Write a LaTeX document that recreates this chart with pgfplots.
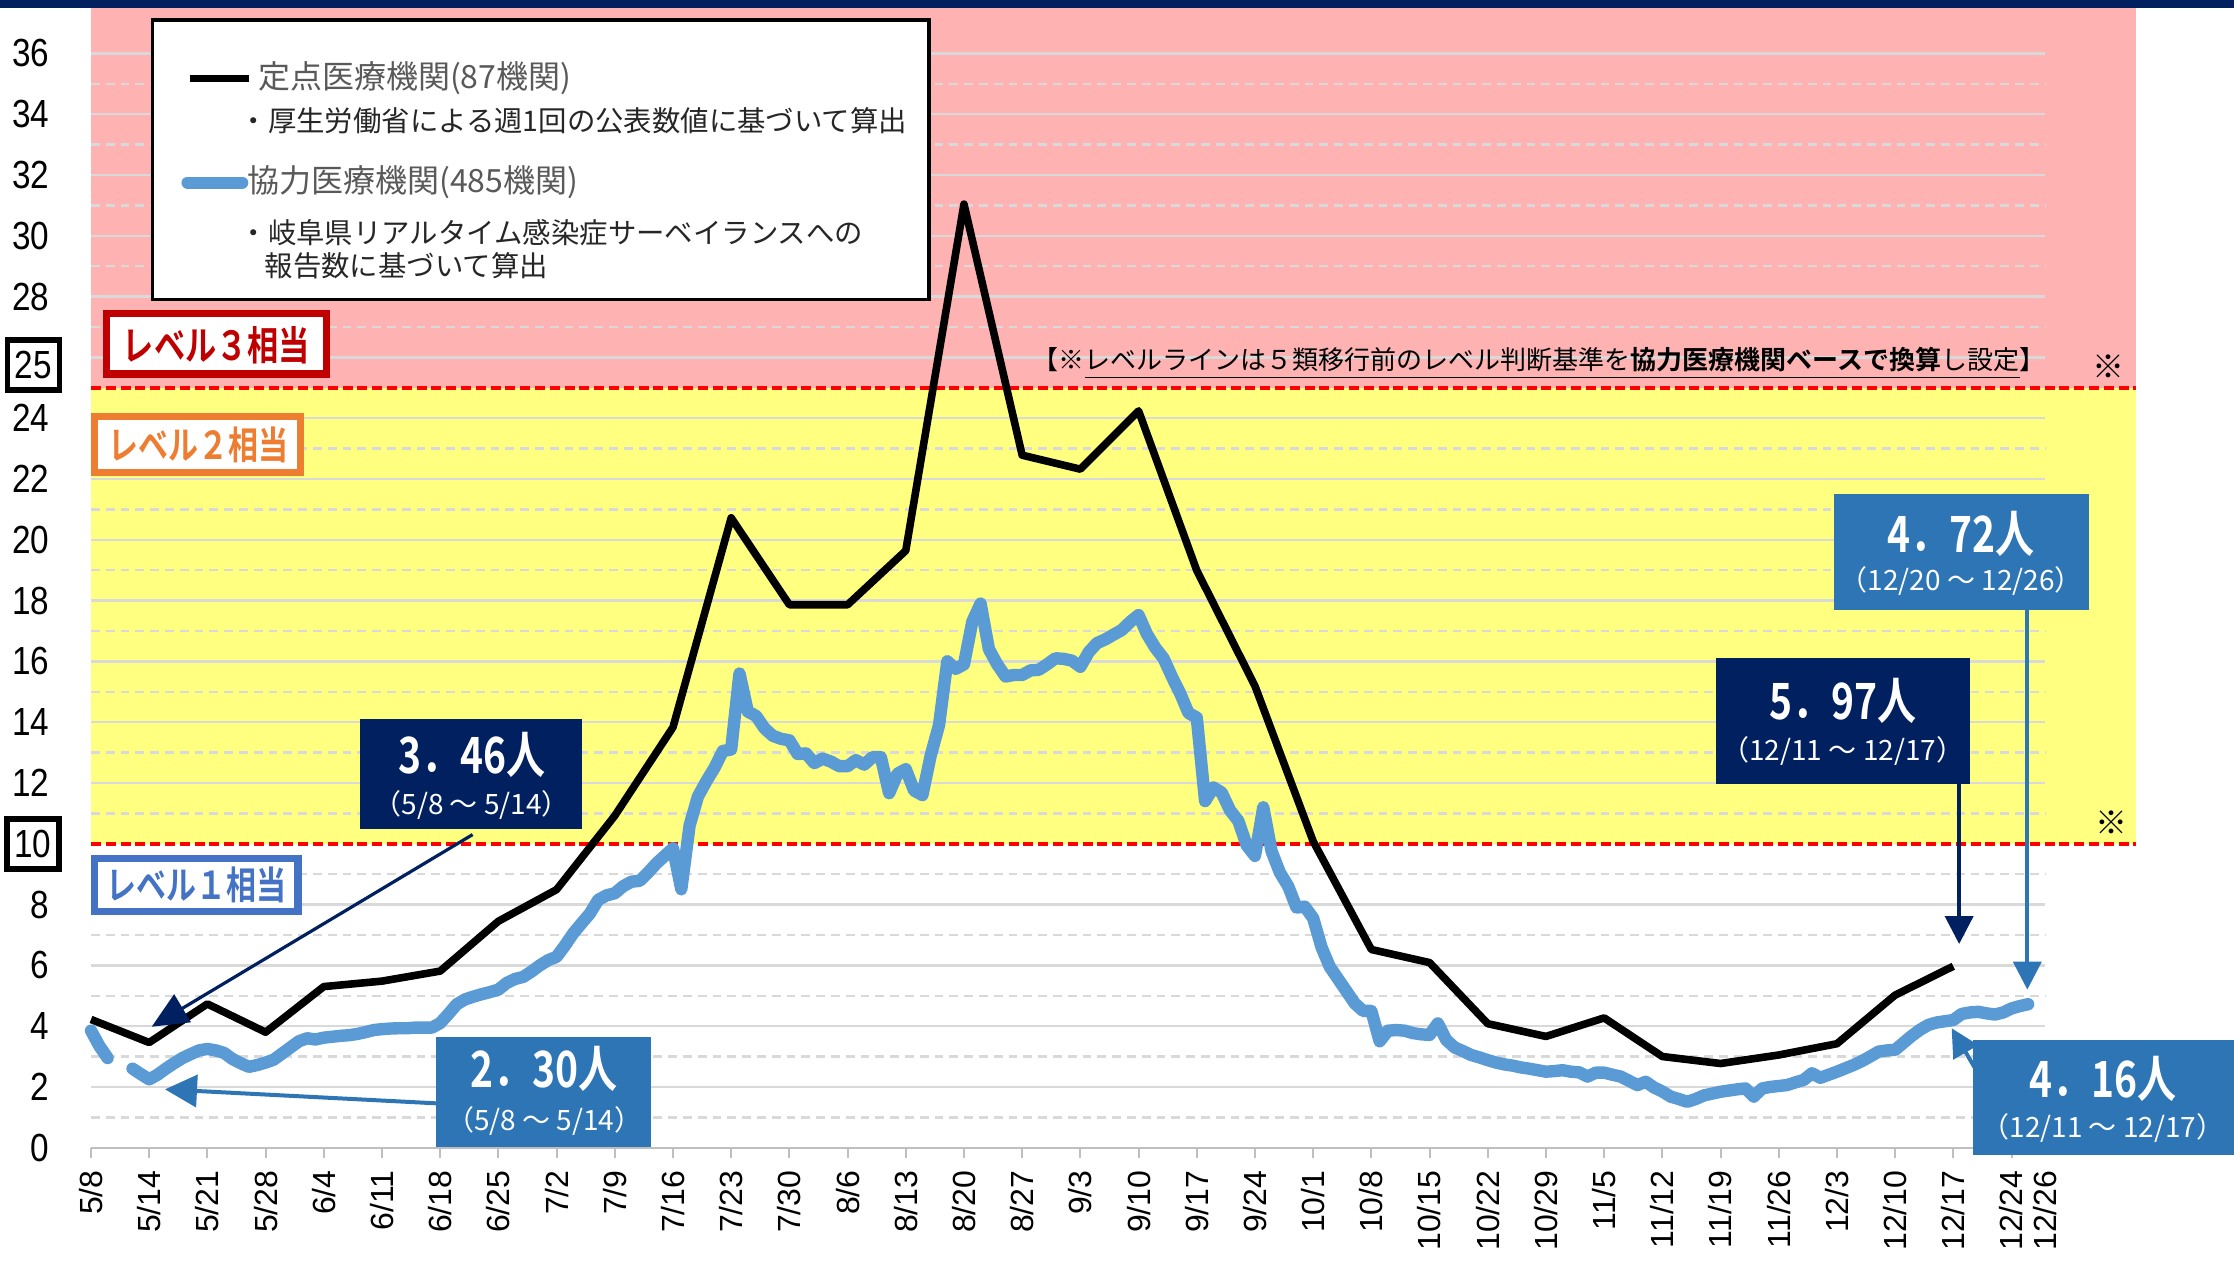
\documentclass[border=0pt]{standalone}
\usepackage{fontspec}
\setmainfont{Liberation Sans}
\newfontfamily\narrowfont{Liberation Sans}[FakeStretch=0.85]
\newfontfamily\jp{Noto Sans CJK JP}[BoldFont={Noto Sans CJK JP Bold}]
\newfontfamily\jpc{Noto Sans CJK JP}[BoldFont={Noto Sans CJK JP Bold},FakeStretch=0.78]
\usepackage{pgfplots}
\pgfplotsset{compat=1.18}
\usetikzlibrary{arrows.meta}

\definecolor{navy}{HTML}{002060}
\definecolor{boxblue}{HTML}{2E75B6}
\definecolor{lineblue}{HTML}{5B9BD5}
\definecolor{pinkbg}{HTML}{FFB2B2}
\definecolor{yellowbg}{HTML}{FFFF80}
\definecolor{gridgray}{HTML}{D9D9D9}
\definecolor{tickgray}{HTML}{BFBFBF}
\definecolor{lvthree}{HTML}{C00000}
\definecolor{lvtwo}{HTML}{ED7D31}
\definecolor{lvone}{HTML}{4472C4}
\definecolor{legtext}{HTML}{595959}

\begin{document}
\begin{tikzpicture}
\begin{axis}[
  scale only axis, width=511.3pt, height=285pt,
  xmin=0, xmax=246, ymin=0, ymax=37.5,
  clip=false,
  axis line style={draw=none},
  major tick length=0pt,
  xtick={0,7,14,21,28,35,42,49,56,63,70,77,84,91,98,105,112,119,126,133,140,147,154,161,168,175,182,189,196,203,210,217,224,231,235},
  xticklabels={5/8,5/14,5/21,5/28,6/4,6/11,6/18,6/25,7/2,7/9,7/16,7/23,7/30,8/6,8/13,8/20,8/27,9/3,9/10,9/17,9/24,10/1,10/8,10/15,10/22,10/29,11/5,11/12,11/19,11/26,12/3,12/10,12/17,12/24,12/26},
  xticklabel style={rotate=90, anchor=east, inner sep=0pt, font=\fontsize{8}{8}\selectfont},
  xticklabel shift=5.5pt,
  ytick={0,2,4,6,8,12,14,16,18,20,22,24,28,30,32,34,36},
  yticklabels={0,2,4,6,8,12,14,16,18,20,22,24,28,30,32,34,36},
  yticklabel style={anchor=east, inner sep=0pt, font=\narrowfont\fontsize{9.8}{9.8}\selectfont},
  yticklabel shift=10.25pt,
]
% level bands
\fill[pinkbg] (axis cs:0,25) rectangle (axis cs:246,37.5);
\fill[yellowbg] (axis cs:0,10) rectangle (axis cs:246,25);
% grid
\pgfplotsinvokeforeach{2,4,6,8,12,14,16,18,20,22,24,26,28,30,32,34,36}{
  \draw[gridgray, line width=0.6pt] (axis cs:0,#1) -- (axis cs:235,#1);}
\pgfplotsinvokeforeach{1,3,5,7,9,11,13,15,17,19,21,23,27,29,31,33,35}{
  \draw[gridgray, line width=0.6pt, dash pattern=on 2.2pt off 1.5pt] (axis cs:0,#1) -- (axis cs:235,#1);}
\draw[red, line width=1pt, dash pattern=on 2.5pt off 1.2pt] (axis cs:0,25) -- (axis cs:246,25);
\draw[red, line width=1pt, dash pattern=on 2.5pt off 1.2pt] (axis cs:0,10) -- (axis cs:246,10);
% baseline and ticks
\draw[tickgray, line width=0.6pt] (axis cs:0,0) -- (axis cs:235,0);
\pgfplotsinvokeforeach{0,7,...,231}{
  \draw[tickgray, line width=0.5pt] (axis cs:#1,0) -- ++(0pt,-2.5pt);}
% boxed y labels
\node[draw=black, line width=1.4pt, minimum width=13pt, minimum height=12.6pt, inner sep=0pt,
  font=\narrowfont\fontsize{9.8}{9.8}\selectfont] at ([xshift=-14.4pt]axis cs:0,25.75) {25};
\node[draw=black, line width=1.4pt, minimum width=13pt, minimum height=12.6pt, inner sep=0pt,
  font=\narrowfont\fontsize{9.8}{9.8}\selectfont] at ([xshift=-14.5pt]axis cs:0,9.99) {10};

% legend
\draw[line width=0.9pt, fill=white] (axis cs:7.39,27.9) rectangle (axis cs:100.8,37.1);
\draw[black, line width=1.8pt] (axis cs:11.85,35.17) -- (axis cs:19.0,35.17);
\node[anchor=west, inner sep=0pt, text=legtext, font=\jp\fontsize{8}{8}\selectfont] at (axis cs:20.0,35.17) {定点医療機関(87機関)};
\node[anchor=west, inner sep=0pt, text=black!85, font=\jp\fontsize{7.1}{7.1}\selectfont] at (axis cs:17.8,33.77) {・厚生労働省による週1回の公表数値に基づいて算出};
\draw[lineblue, line width=3pt, line cap=round] (axis cs:11.6,31.75) -- (axis cs:18.2,31.75);
\node[anchor=west, inner sep=0pt, text=legtext, font=\jp\fontsize{8}{8}\selectfont] at (axis cs:18.7,31.75) {協力医療機関(485機関)};
\node[anchor=west, inner sep=0pt, text=black!85, font=\jp\fontsize{7.1}{7.1}\selectfont] at (axis cs:17.8,30.1) {・岐阜県リアルタイム感染症サーベイランスへの};
\node[anchor=west, inner sep=0pt, text=black!85, font=\jp\fontsize{7.1}{7.1}\selectfont] at (axis cs:20.8,29.0) {報告数に基づいて算出};

% level boxes
\draw[lvthree, line width=1.8pt, fill=white] (axis cs:1.9,25.45) rectangle (axis cs:28.3,27.43);
\node[text=lvthree, font=\jpc\bfseries\fontsize{10}{10}\selectfont] at (axis cs:15.1,26.4) {レベル３相当};
\draw[lvtwo, line width=1.8pt, fill=white] (axis cs:0.4,22.2) rectangle (axis cs:25.2,24.05);
\node[text=lvtwo, font=\jpc\bfseries\fontsize{9.6}{9.6}\selectfont] at (axis cs:12.9,23.13) {レベル２相当};
\draw[lvone, line width=1.8pt, fill=white] (axis cs:0.4,7.76) rectangle (axis cs:24.9,9.52);
\node[text=lvone, font=\jpc\bfseries\fontsize{9.6}{9.6}\selectfont] at (axis cs:12.7,8.65) {レベル１相当};

% note
\node[inner sep=0pt, font=\jp\fontsize{6.5}{6.5}\selectfont] at (axis cs:174.2,25.8)
  {【※\underline{レベルラインは５類移行前のレベル判断基準を\textbf{協力医療機関ベースで換算}し設定}】};
\node[inner sep=0pt, font=\jp\fontsize{8}{8}\selectfont] at (axis cs:242.7,25.7) {※};
\node[inner sep=0pt, font=\jp\fontsize{8}{8}\selectfont] at (axis cs:243.0,10.7) {※};

% 協力医療機関 (daily)
\addplot[lineblue, line width=3.1pt, line cap=round, line join=round] coordinates {
(0,3.85) (1,3.35) (2,2.95)};
\addplot[lineblue, line width=3.1pt, line cap=round, line join=round] coordinates {
(5,2.6) (6,2.42) (7,2.25) (8,2.4) (9,2.6) (10,2.78) (11,2.95) (12,3.08) (13,3.2) (14,3.25)
(15,3.2) (16,3.12) (17,2.92) (18,2.78) (19,2.66) (20,2.72) (21,2.8) (22,2.9) (23,3.1) (24,3.3)
(25,3.5) (26,3.6) (27,3.56) (28,3.62) (29,3.65) (30,3.68) (31,3.7) (32,3.74) (33,3.8) (34,3.87)
(35,3.9) (36,3.92) (37,3.93) (38,3.93) (39,3.95) (40,3.95) (41,3.95) (42,4.1) (43,4.4) (44,4.72)
(45,4.88) (46,4.97) (47,5.05) (48,5.12) (49,5.2) (50,5.42) (51,5.55) (52,5.62) (53,5.8) (54,6.0)
(55,6.17) (56,6.28) (57,6.65) (58,7.05) (59,7.38) (60,7.7) (61,8.15) (62,8.3) (63,8.37) (64,8.6)
(65,8.75) (66,8.78) (67,9.05) (68,9.35) (69,9.6) (70,9.85) (71,8.5) (72,10.6) (73,11.55) (74,12.05)
(75,12.5) (76,13.05) (77,13.1) (78,15.6) (79,14.35) (80,14.2) (81,13.8) (82,13.55) (83,13.45) (84,13.4)
(85,12.95) (86,12.97) (87,12.65) (88,12.8) (89,12.7) (90,12.55) (91,12.55) (92,12.75) (93,12.6) (94,12.85)
(95,12.85) (96,11.66) (97,12.3) (98,12.45) (99,11.75) (100,11.6) (101,12.9) (102,13.9) (103,16.0) (104,15.75)
(105,15.9) (106,17.3) (107,17.9) (108,16.4) (109,15.9) (110,15.5) (111,15.55) (112,15.55) (113,15.7) (114,15.72)
(115,15.9) (116,16.1) (117,16.08) (118,16.02) (119,15.82) (120,16.3) (121,16.6) (122,16.72) (123,16.88) (124,17.03)
(125,17.3) (126,17.52) (127,16.9) (128,16.45) (129,16.1) (130,15.5) (131,14.95) (132,14.3) (133,14.15) (134,11.4)
(135,11.85) (136,11.68) (137,11.1) (138,10.75) (139,9.95) (140,9.6) (141,11.2) (142,9.75) (143,9.05) (144,8.6)
(145,7.9) (146,7.93) (147,7.55) (148,6.6) (149,5.95) (150,5.55) (151,5.15) (152,4.75) (153,4.5) (154,4.5)
(155,3.5) (156,3.85) (157,3.87) (158,3.85) (159,3.77) (160,3.73) (161,3.71) (162,4.09) (163,3.55) (164,3.3)
(165,3.18) (166,3.05) (167,2.97) (168,2.88) (169,2.8) (170,2.74) (171,2.7) (172,2.64) (173,2.6) (174,2.55)
(175,2.5) (176,2.52) (177,2.55) (178,2.5) (179,2.48) (180,2.34) (181,2.47) (182,2.47) (183,2.4) (184,2.34)
(185,2.2) (186,2.06) (187,2.17) (188,1.98) (189,1.85) (190,1.68) (191,1.6) (192,1.51) (193,1.6) (194,1.72)
(195,1.78) (196,1.84) (197,1.88) (198,1.92) (199,1.95) (200,1.68) (201,1.95) (202,2.0) (203,2.03) (204,2.06)
(205,2.15) (206,2.23) (207,2.45) (208,2.3) (209,2.4) (210,2.5) (211,2.61) (212,2.72) (213,2.85) (214,3.0)
(215,3.16) (216,3.2) (217,3.22) (218,3.45) (219,3.68) (220,3.88) (221,4.04) (222,4.12) (223,4.16) (224,4.2)
(225,4.4) (226,4.45) (227,4.47) (228,4.42) (229,4.38) (230,4.45) (231,4.58) (232,4.66) (233,4.72)};

% 定点医療機関 (weekly)
\addplot[black, line width=1.9pt, line join=round] coordinates {
(0,4.22) (7,3.46) (14,4.73) (21,3.80) (28,5.30) (35,5.48) (42,5.81) (49,7.45) (56,8.49) (63,10.92)
(70,13.83) (77,20.72) (84,17.86) (91,17.86) (98,19.64) (105,31.04) (112,22.78) (119,22.32) (126,24.24) (133,18.99)
(140,15.19) (147,10.08) (154,6.52) (161,6.09) (168,4.08) (175,3.66) (182,4.27) (189,3.00) (196,2.77) (203,3.05)
(210,3.42) (217,5.02) (224,5.97)};

% callouts
\fill[navy] (axis cs:32.4,10.48) rectangle (axis cs:59.1,14.09);
\node[text=white, font=\jpc\bfseries\fontsize{12.5}{12.5}\selectfont] at (axis cs:45.8,12.92) {3．46人};
\node[text=white, font=\jp\fontsize{7}{7}\selectfont] at (axis cs:45.8,11.27) {（5/8 ～ 5/14）};
\draw[navy, line width=0.8pt, -{Triangle[length=9pt,width=8pt]}] (axis cs:45.9,10.3) -- (axis cs:7.3,3.98);

\fill[boxblue] (axis cs:41.5,0.03) rectangle (axis cs:67.4,3.63);
\node[text=white, font=\jpc\bfseries\fontsize{12.5}{12.5}\selectfont] at (axis cs:54.5,2.6) {2．30人};
\node[text=white, font=\jp\fontsize{7}{7}\selectfont] at (axis cs:54.5,0.87) {（5/8 ～ 5/14）};
\draw[boxblue, line width=1pt, -{Triangle[length=8pt,width=8pt]}] (axis cs:41.5,1.46) -- (axis cs:8.9,1.92);

\fill[navy] (axis cs:195.4,11.98) rectangle (axis cs:226.0,16.1);
\node[text=white, font=\jpc\bfseries\fontsize{12.5}{12.5}\selectfont] at (axis cs:210.7,14.7) {5．97人};
\node[text=white, font=\jp\fontsize{7}{7}\selectfont] at (axis cs:210.7,13.06) {（12/11 ～ 12/17）};
\draw[navy, line width=1pt, -{Triangle[length=7pt,width=7pt]}] (axis cs:224.7,11.98) -- (axis cs:224.7,6.7);

\fill[boxblue] (axis cs:209.6,17.69) rectangle (axis cs:240.3,21.49);
\node[text=white, font=\jpc\bfseries\fontsize{12.5}{12.5}\selectfont] at (axis cs:224.95,20.18) {4．72人};
\node[text=white, font=\jp\fontsize{7}{7}\selectfont] at (axis cs:224.95,18.63) {（12/20 ～ 12/26）};
\draw[boxblue, line width=1pt, -{Triangle[length=7pt,width=7pt]}] (axis cs:232.9,17.69) -- (axis cs:232.9,5.2);

\fill[boxblue] (axis cs:226.4,-0.25) rectangle (axis cs:258,3.54);
\node[text=white, font=\jpc\bfseries\fontsize{12.5}{12.5}\selectfont] at (axis cs:242,2.28) {4．16人};
\node[text=white, font=\jp\fontsize{7}{7}\selectfont] at (axis cs:242,0.64) {（12/11 ～ 12/17）};
\draw[boxblue, line width=1pt, -{Triangle[length=7pt,width=7pt]}] (axis cs:227.5,2.2) -- (axis cs:223.8,3.93);

% top rule
\fill[navy] (axis cs:-11,37.5) rectangle (axis cs:258,37.8);
\end{axis}
\pgfresetboundingbox
\path[use as bounding box] (-22.75pt,-29.075pt) rectangle (535.75pt,286.925pt);
\end{tikzpicture}
\end{document}
